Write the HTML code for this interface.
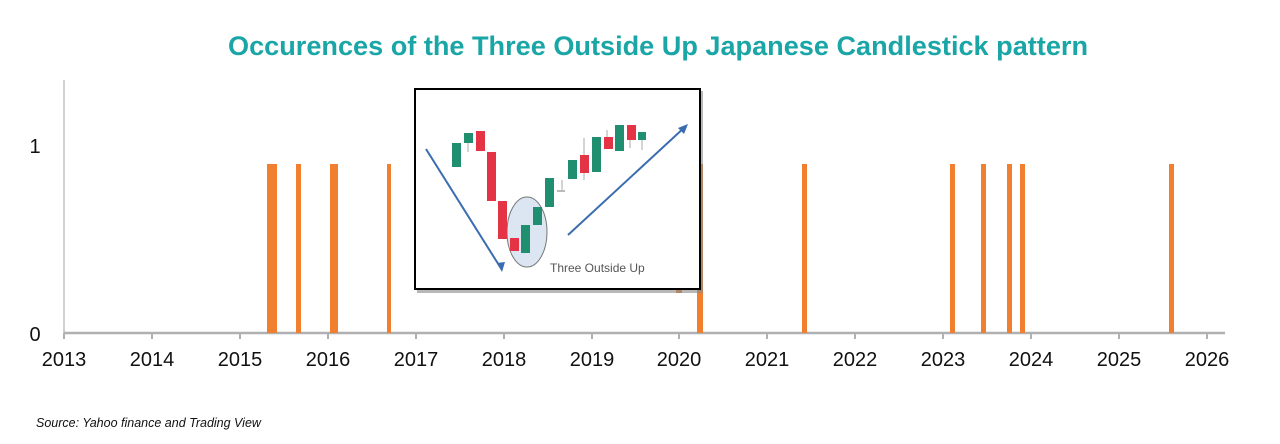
<!DOCTYPE html>
<html><head><style>
body{margin:0;width:1280px;height:439px;background:#fff;overflow:hidden;font-family:"Liberation Sans",Arial,sans-serif}
</style></head><body>
<svg width="1280" height="439" viewBox="0 0 1280 439" xmlns="http://www.w3.org/2000/svg">
<text x="658" y="55" text-anchor="middle" font-size="27" font-weight="bold" fill="#1aa6a6" font-family="Liberation Sans, sans-serif" textLength="860" lengthAdjust="spacingAndGlyphs">Occurences of the Three Outside Up Japanese Candlestick pattern</text>
<line x1="64" y1="80" x2="64" y2="333" stroke="#d0d0d0" stroke-width="2"/>
<line x1="64" y1="333" x2="1225" y2="333" stroke="#b0b0b0" stroke-width="2.5"/>
<g stroke="#b0b0b0" stroke-width="2">
<line x1="64" y1="333" x2="64" y2="339"/><line x1="152" y1="333" x2="152" y2="339"/><line x1="240" y1="333" x2="240" y2="339"/><line x1="328" y1="333" x2="328" y2="339"/><line x1="416" y1="333" x2="416" y2="339"/><line x1="504" y1="333" x2="504" y2="339"/><line x1="592" y1="333" x2="592" y2="339"/><line x1="679" y1="333" x2="679" y2="339"/><line x1="767" y1="333" x2="767" y2="339"/><line x1="855" y1="333" x2="855" y2="339"/><line x1="943" y1="333" x2="943" y2="339"/><line x1="1031" y1="333" x2="1031" y2="339"/><line x1="1119" y1="333" x2="1119" y2="339"/><line x1="1207" y1="333" x2="1207" y2="339"/>
</g>
<g font-size="20" fill="#111" text-anchor="middle">
<text x="64" y="366">2013</text><text x="152" y="366">2014</text><text x="240" y="366">2015</text><text x="328" y="366">2016</text><text x="416" y="366">2017</text><text x="504" y="366">2018</text><text x="592" y="366">2019</text><text x="679" y="366">2020</text><text x="767" y="366">2021</text><text x="855" y="366">2022</text><text x="943" y="366">2023</text><text x="1031" y="366">2024</text><text x="1119" y="366">2025</text><text x="1207" y="366">2026</text>
</g>
<text x="35" y="341" font-size="20" fill="#111" text-anchor="middle">0</text>
<text x="35" y="153" font-size="20" fill="#111" text-anchor="middle">1</text>
<g fill="#f08030">
<rect x="267" y="164" width="5" height="169"/><rect x="272" y="164" width="5" height="169"/><rect x="296" y="164" width="5" height="169"/><rect x="330" y="164" width="8" height="169"/><rect x="387" y="164" width="4" height="169"/><rect x="676" y="164" width="6" height="129"/><rect x="697" y="164" width="6" height="169"/><rect x="802" y="164" width="5" height="169"/><rect x="950" y="164" width="5" height="169"/><rect x="981" y="164" width="5" height="169"/><rect x="1007" y="164" width="5" height="169"/><rect x="1020" y="164" width="5" height="169"/><rect x="1169" y="164" width="5" height="169"/>
</g>
<text x="36" y="427" font-size="12.5" font-style="italic" fill="#111">Source: Yahoo finance and Trading View</text>
<rect x="417" y="91" width="286" height="202" fill="#888" opacity="0.6"/>
<rect x="415" y="89" width="285" height="200" fill="#fff" stroke="#000" stroke-width="2"/>
<ellipse cx="527" cy="232" rx="20" ry="35" fill="#dbe6f2" stroke="#777" stroke-width="1"/>
<g stroke="#3a6cb0" stroke-width="2">
<line x1="426" y1="149" x2="502" y2="270"/><line x1="568" y1="235" x2="686" y2="126"/>
</g>
<polygon points="502,272 497,263 505,262" fill="#3a6cb0"/>
<polygon points="688,124 678,128 684,134" fill="#3a6cb0"/>
<g stroke="#aaa" stroke-width="1">
<line x1="468" y1="135" x2="468" y2="152"/><line x1="562" y1="180" x2="562" y2="192"/><line x1="584" y1="138" x2="584" y2="180"/><line x1="607" y1="130" x2="607" y2="142"/><line x1="630" y1="125" x2="630" y2="148"/><line x1="642" y1="135" x2="642" y2="150"/>
</g>
<g fill="#1f8f70">
<rect x="452" y="143" width="9" height="24"/><rect x="464" y="133" width="9" height="10"/><rect x="521" y="225" width="9" height="28"/><rect x="533" y="207" width="9" height="18"/><rect x="545" y="178" width="9" height="29"/><rect x="568" y="160" width="9" height="19"/><rect x="592" y="137" width="9" height="35"/><rect x="615" y="125" width="9" height="26"/><rect x="638" y="132" width="8" height="8"/><rect x="557" y="190" width="8" height="2" fill="#bbb"/>
</g>
<g fill="#e33345">
<rect x="476" y="131" width="9" height="20"/><rect x="487" y="152" width="9" height="49"/><rect x="498" y="201" width="9" height="38"/><rect x="510" y="238" width="9" height="13"/><rect x="580" y="155" width="9" height="18"/><rect x="604" y="137" width="9" height="12"/><rect x="627" y="125" width="9" height="15"/>
</g>
<text x="550" y="272" font-size="12" fill="#555">Three Outside Up</text>
</svg>
</body></html>
